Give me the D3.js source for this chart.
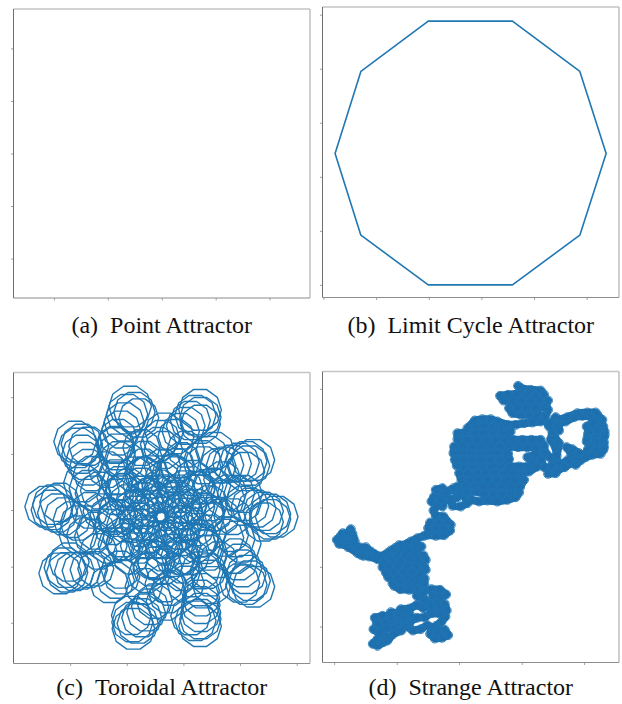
<!DOCTYPE html>
<html>
<head>
<meta charset="utf-8">
<script src="https://cdn.jsdelivr.net/npm/d3@7"></script>
<style>
  html, body { margin: 0; padding: 0; background: #fff; }
  svg { display: block; }
</style>
</head>
<body>
<svg id="fig" width="622" height="704"></svg>
<script>
// ---------------- data ----------------

// (a) point attractor: the orbit collapses onto one fixed point
const pointX = [0];
const pointY = [0];
const pointTicks = [-0.04, -0.02, 0, 0.02, 0.04];

// (b) limit cycle: a ten-step periodic orbit
const cycleX = [1.99, 3.59, 4.87, 5.37, 4.87, 3.59, 1.99, 0.71, 0.22, 0.71];
const cycleY = [4.88, 4.88, 3.95, 2.43, 0.92, 0.00, 0.00, 0.92, 2.43, 3.95];
const cycleTicks = [0, 1, 2, 3, 4, 5];

// (c) toroidal attractor: ten-step loops whose centres drift around the torus
const loopShape = [[1, 0], [0.809, 0.588], [0.309, 0.951], [-0.309, 0.951], [-0.809, 0.588],
                   [-1, 0], [-0.809, -0.588], [-0.309, -0.951], [0.309, -0.951], [0.809, -0.588]];
// [centre x, centre y, loop radius]
const torusLoops = [
  // outer petals
  [830,470,64],[810,462,62],[790,454,60],[770,446,58],[750,438,56],[730,430,54],[810,478,62],[790,486,60],
  [760,300,64],[739,304,62],[718,307,60],[696,311,58],[675,315,56],[654,318,54],[747,317,62],[734,335,60],
  [600,150,64],[586,166,62],[571,182,60],[557,198,58],[542,214,56],[528,230,54],[601,172,62],[601,193,60],
  [390,140,64],[381,163,62],[372,186,60],[363,209,58],[354,232,56],[345,255,54],[403,157,62],[416,174,60],
  [225,245,64],[235,264,62],[245,283,60],[254,303,58],[264,322,56],[274,341,54],[245,252,62],[266,259,60],
  [138,440,64],[155,450,62],[172,459,60],[190,469,58],[215,479,56],[234,489,54],[159,434,62],[179,427,60],
  [180,640,64],[201,637,62],[223,634,60],[244,632,58],[266,629,56],[287,626,54],[194,623,62],[207,606,60],
  [400,806,64],[413,790,62],[425,773,60],[438,757,58],[450,740,56],[463,723,54],[397,786,62],[394,766,60],
  [600,798,64],[601,777,62],[602,757,60],[602,735,58],[603,714,56],[604,692,54],[586,782,62],[572,767,60],
  [760,680,64],[749,662,62],[738,643,60],[727,625,58],[716,606,56],[705,588,54],[739,674,62],[719,669,60],
  // between the petals
  [729,402,58],[708,400,56],[686,397,54],
  [645,273,58],[626,283,56],[607,294,54],
  [492,215,58],[483,235,56],[475,254,54],
  [346,255,58],[350,276,56],[354,297,54],
  [248,370,58],[263,385,56],[279,400,54],
  [234,523,58],[255,527,56],[277,530,54],
  [328,672,58],[347,661,56],[365,650,54],
  [496,725,58],[503,705,56],[510,684,54],
  [635,675,58],[630,654,56],[624,633,54],
  [725,551,58],[709,537,56],[692,523,54],
  // outer-middle rings
  [698,470,56],[667,359,56],[557,268,56],[424,263,56],[321,329,56],
  [269,451,56],[295,574,56],[431,679,56],[557,672,56],[655,599,56],
  [676,416,58],[610,316,58],[490,270,58],[376,301,58],[299,392,58],
  [287,512,58],[361,629,58],[493,670,58],[602,631,58],[673,533,58],
  // middle ring
  [663,470,55],[643,462,53],[623,454,51],
  [637,377,55],[616,380,53],[595,384,51],
  [545,301,55],[531,317,53],[517,333,51],
  [433,297,55],[431,318,53],[429,340,51],
  [347,352,55],[357,371,53],[367,390,51],
  [304,454,55],[323,464,53],[342,474,51],
  [326,557,55],[347,554,53],[369,552,51],
  [439,645,55],[452,627,53],[464,610,51],
  [545,639,55],[546,618,53],[547,596,51],
  [627,578,55],[616,560,53],[605,541,51],
  [628,430,55],[578,354,55],[488,320,55],[402,344,55],[345,411,55],
  [336,501,55],[392,589,55],[491,620,55],[572,591,55],[625,518,55],
  [613,470,60],[594,403,60],[527,348,60],[447,345,60],[385,385,60],
  [353,459,60],[369,533,60],[452,596,60],[527,592,60],[587,548,60],
  [613,455,58],[586,390,58],[513,343,58],[433,349,58],[375,396,58],
  [352,474,58],[376,546,58],[467,600,58],[541,587,58],[596,536,58],
  // inner ring
  [589,441,55],[553,385,55],[487,360,55],[424,377,55],[382,427,55],
  [375,493,55],[416,557,55],[489,580,55],[548,558,55],[587,505,55],
  [568,439,52],[534,395,52],[478,380,52],[428,398,52],[397,442,52],
  [396,497,52],[434,546,52],[496,560,52],[542,537,52],[570,491,52],
  // loops grazing the central hole
  [553,470,58],[543,434,58],[507,404,58],[464,403,58],[430,424,58],
  [413,464,58],[422,504,58],[466,538,58],[507,536,58],[539,512,58],
  [550,451,58],[528,416,58],[485,400,58],[445,411,58],[419,443,58],
  [415,485,58],[440,526,58],[487,540,58],[525,526,58],[549,492,58],
  // loops enclosing the central hole
  [521,470,56],[516,450,56],[496,434,56],[473,433,56],[454,445,56],
  [445,467,56],[450,488,56],[474,507,56],[496,506,56],[513,493,56]
];
const torusXTicks = [210, 380, 550, 720, 890];
const torusYTicks = [112, 282, 450, 620, 788];

// (d) strange attractor: a wandering orbit, one sample per step
const walk = [
  [186,852],[200,838],[218,846],[225,828],[205,820],[188,808],[205,796],[228,806],[250,800],[262,790],
  [245,782],[222,786],[198,790],[192,774],[215,768],[240,770],[262,772],[285,778],[298,766],[285,756],
  [262,760],[240,757],[200,858],[230,842],[248,822],[272,812],[282,795],[296,790],[270,748],[298,746],
  [318,735],[338,745],[358,732],[340,718],[318,708],[338,694],[362,688],[388,690],[406,704],[388,714],
  [365,708],[378,728],[402,732],[408,752],[388,762],[362,760],[342,772],[318,774],[298,784],[290,800],
  [306,812],[330,808],[350,796],[364,804],[358,822],[372,836],[394,834],[412,826],[402,810],[380,815],
  [376,798],[392,786],[404,770],[385,745],[360,745],[340,728],[335,705],[325,688],
  [320,688],[295,690],[268,688],[250,678],[245,670],[270,668],[292,672],[318,670],[340,672],[342,656],
  [325,650],[285,655],[260,655],[232,652],[225,638],[250,636],[278,640],[305,636],[330,638],[345,630],
  [340,618],[315,620],[290,618],[262,620],[235,620],[215,622],[218,605],[245,602],[270,604],[298,600],
  [322,602],[345,600],[338,586],[312,586],[285,588],[258,585],[232,590],[240,572],[265,570],[292,568],
  [318,570],[332,560],[315,553],[290,552],[265,556],[252,565],
  [230,580],[210,590],[190,582],[172,575],[158,588],[140,580],[150,563],[130,556],[110,550],[92,546],
  [78,540],[90,528],[108,522],[120,508],[112,520],[128,535],[118,548],[142,568],[165,562],[180,575],
  [85,552],[100,538],[96,520],[125,522],[132,545],[112,562],[150,585],[175,590],
  [200,598],[222,598],[240,590],
  [270,560],[300,545],[320,535],[340,528],
  [350,525],[375,528],[400,526],[418,512],[400,505],[375,505],[352,505],[358,488],[382,486],[408,486],
  [420,495],[398,470],[375,468],[368,452],[378,438],[362,425],[370,410],[385,400],[375,390],[395,385],
  [405,405],[390,420],[395,440],[410,395],[428,385],[445,392],[440,412],[420,420],[425,438],[450,440],
  [470,430],[462,410],[470,392],
  [480,420],[505,425],[530,422],[560,425],[590,420],[615,412],
  [625,398],[600,400],[575,402],[548,400],[520,402],[495,395],[470,398],[445,402],[432,395],
  [440,380],[465,380],[492,378],[518,380],[545,378],[572,380],[600,380],[628,382],
  [640,360],[612,360],[585,360],[558,360],[530,360],[503,360],[476,362],[452,360],
  [445,340],[470,340],[498,340],[525,338],[552,340],[580,340],[608,340],[635,340],[655,335],
  [680,320],[652,320],[625,320],[598,320],[570,320],[542,320],[515,320],[488,320],[460,320],[438,318],
  [432,300],[458,300],[485,300],[512,300],[540,300],[568,300],[595,298],
  [592,280],[565,280],[538,280],[510,280],[482,280],[455,280],[428,280],
  [430,260],[458,260],[485,260],[512,260],[540,260],[568,260],[595,260],[622,262],[650,262],[678,262],
  [700,258],[698,280],[672,285],[650,292],[665,305],[692,302],[700,270],
  [690,240],[662,240],[635,240],[608,240],[580,240],[552,240],[525,240],[498,240],[470,240],[440,238],
  [440,220],[465,218],[492,220],[520,220],[548,220],[575,220],[600,215],
  [575,200],[548,200],[520,198],[495,200],[470,205],
  [492,182],[515,178],[540,178],[560,185],
  [590,195],[615,195],[640,190],[665,188],[690,185],[705,168],[680,165],[655,165],[630,165],[605,160],
  [595,145],[620,145],[648,145],[675,145],[700,140],[712,122],[688,122],[660,122],[632,122],[605,125],
  [578,122],[568,108],[592,105],[620,102],[648,105],[675,108],[700,104],[690,92],[660,90],[630,85],
  [622,78],[655,100],[705,130],[712,150],[700,175],[715,200],[740,192],[765,185],[790,172],[815,168],
  [840,170],[860,165],[875,180],[868,195],[845,190],[828,200],[835,215],[860,210],[882,215],[880,232],
  [855,235],[830,235],[838,255],[862,252],[880,262],[870,282],[845,285],[825,292],[805,280],[785,268],
  [768,262],[782,282],[800,300],[780,310],[762,322],[742,330],[720,332],[700,322],[690,300],[705,280],
  [720,295],[740,310],[735,262],[720,240],[725,215],[745,212],
  [745,180],[770,172],[800,160],[830,158],[855,158],[878,200],[882,225],[858,225],[832,222],[828,245],
  [855,245],[880,248],[878,270],[855,272],[832,268],[812,300],[795,315],[772,300],[752,312],[735,340],
  [712,342],[722,318],[738,288],[745,250],[730,228],[722,190],[735,172]
];
const walkXTicks = [70, 258, 445, 633, 820];
const walkYTicks = [87, 265, 443, 621, 800];

const captions = [
  ["(a)", "Point Attractor"],
  ["(b)", "Limit Cycle Attractor"],
  ["(c)", "Toroidal Attractor"],
  ["(d)", "Strange Attractor"]
];

// ---------------- layout ----------------
const BLUE = "#1f77b4";
const svg = d3.select("#fig");

const panels = [
  { box: [13.5, 9, 310, 298],        xd: [-0.055, 0.055], yd: [-0.055, 0.055], xt: pointTicks,  yt: pointTicks,  down: false, capY: 333 },
  { box: [322.5, 7, 619, 297.5],     xd: [-0.019, 5.614], yd: [-0.234, 5.142], xt: cycleTicks,  yt: cycleTicks,  down: false, capY: 333 },
  { box: [13.5, 372.5, 310, 663.5],  xd: [40, 930],       yd: [38, 910],       xt: torusXTicks, yt: torusYTicks, down: true,  capY: 695 },
  { box: [322.5, 371.5, 619, 662.5], xd: [35, 925],       yd: [35, 908],       xt: walkXTicks,  yt: walkYTicks,  down: true,  capY: 695 }
];

panels.forEach((p, i) => {
  const [x0, y0, x1, y1] = p.box;
  p.x = d3.scaleLinear().domain(p.xd).range([x0, x1]);
  p.y = d3.scaleLinear().domain(p.yd).range(p.down ? [y0, y1] : [y1, y0]);
  p.g = svg.append("g");
  p.clip = "clip" + i;
  svg.append("clipPath").attr("id", p.clip)
    .append("rect").attr("x", x0).attr("y", y0).attr("width", x1 - x0).attr("height", y1 - y0);
});

// ---------------- marks ----------------
// (a) the fixed point (a zero-length orbit)
{
  const p = panels[0];
  const pts = pointX.map((v, i) => [v, pointY[i]]);
  p.g.append("path")
    .attr("d", d3.line().x(d => p.x(d[0])).y(d => p.y(d[1]))(pts))
    .attr("fill", "none").attr("stroke", BLUE).attr("stroke-width", 1.5);
}

// (b) the periodic orbit
{
  const p = panels[1];
  const pts = cycleX.map((v, i) => [v, cycleY[i]]);
  p.g.append("path")
    .attr("d", d3.line().x(d => p.x(d[0])).y(d => p.y(d[1])).curve(d3.curveLinearClosed)(pts))
    .attr("fill", "none").attr("stroke", BLUE).attr("stroke-width", 1.6)
    .attr("stroke-linejoin", "round");
}

// (c) quasi-periodic loops
{
  const p = panels[2];
  const line = d3.line().x(d => p.x(d[0])).y(d => p.y(d[1])).curve(d3.curveLinearClosed);
  p.g.append("g").attr("clip-path", `url(#${p.clip})`)
    .selectAll("path").data(torusLoops).join("path")
    .attr("d", ([cx, cy, r]) => line(loopShape.map(([u, v]) => [cx + r * u, cy + r * v])))
    .attr("fill", "none").attr("stroke", BLUE).attr("stroke-width", 1.4)
    .attr("stroke-linejoin", "round");
}

// (d) the chaotic orbit: trace plus one open circle per sample
{
  const p = panels[3];
  const gg = p.g.append("g").attr("clip-path", `url(#${p.clip})`);
  gg.append("path")
    .attr("d", d3.line().x(d => p.x(d[0])).y(d => p.y(d[1]))(walk))
    .attr("fill", "none").attr("stroke", "#1f6fae").attr("stroke-width", 8)
    .attr("stroke-linejoin", "round").attr("stroke-linecap", "round");
  gg.selectAll("circle").data(walk).join("circle")
    .attr("cx", d => p.x(d[0])).attr("cy", d => p.y(d[1])).attr("r", 4.5)
    .attr("fill", "none").attr("stroke", BLUE).attr("stroke-width", 1).attr("stroke-opacity", 0.85);
}

// ---------------- frames, ticks, captions ----------------
panels.forEach((p, i) => {
  const [x0, y0, x1, y1] = p.box;
  const ax = svg.append("g");
  const xa = ax.append("g").attr("transform", `translate(0,${y1})`)
    .call(d3.axisBottom(p.x).tickValues(p.xt).tickSize(2.5).tickFormat(""));
  const ya = ax.append("g").attr("transform", `translate(${x0},0)`)
    .call(d3.axisLeft(p.y).tickValues(p.yt).tickSize(2.5).tickFormat(""));
  [xa, ya].forEach(a => {
    a.select(".domain").remove();
    a.selectAll(".tick line").attr("stroke", "#8a8a8a").attr("stroke-width", 0.8);
  });
  // light top/right spines, darker left/bottom spines
  ax.append("line").attr("x1", x0).attr("x2", x1).attr("y1", y0).attr("y2", y0)
    .attr("stroke", "#c4c4c4").attr("stroke-width", 1.6);
  ax.append("line").attr("x1", x1).attr("x2", x1).attr("y1", y0).attr("y2", y1)
    .attr("stroke", "#c4c4c4").attr("stroke-width", 1.6);
  ax.append("line").attr("x1", x0).attr("x2", x0).attr("y1", y0).attr("y2", y1)
    .attr("stroke", "#6e6e6e").attr("stroke-width", 1);
  ax.append("line").attr("x1", x0).attr("x2", x1).attr("y1", y1).attr("y2", y1)
    .attr("stroke", "#8c8c8c").attr("stroke-width", 1.2);

  const t = svg.append("text")
    .attr("x", (x0 + x1) / 2).attr("y", p.capY)
    .attr("text-anchor", "middle")
    .attr("font-family", "'Liberation Serif', 'Times New Roman', serif")
    .attr("font-size", 24).attr("fill", "#111");
  t.append("tspan").text(captions[i][0]);
  t.append("tspan").attr("dx", 12).text(captions[i][1]);
});
</script>
</body>
</html>
